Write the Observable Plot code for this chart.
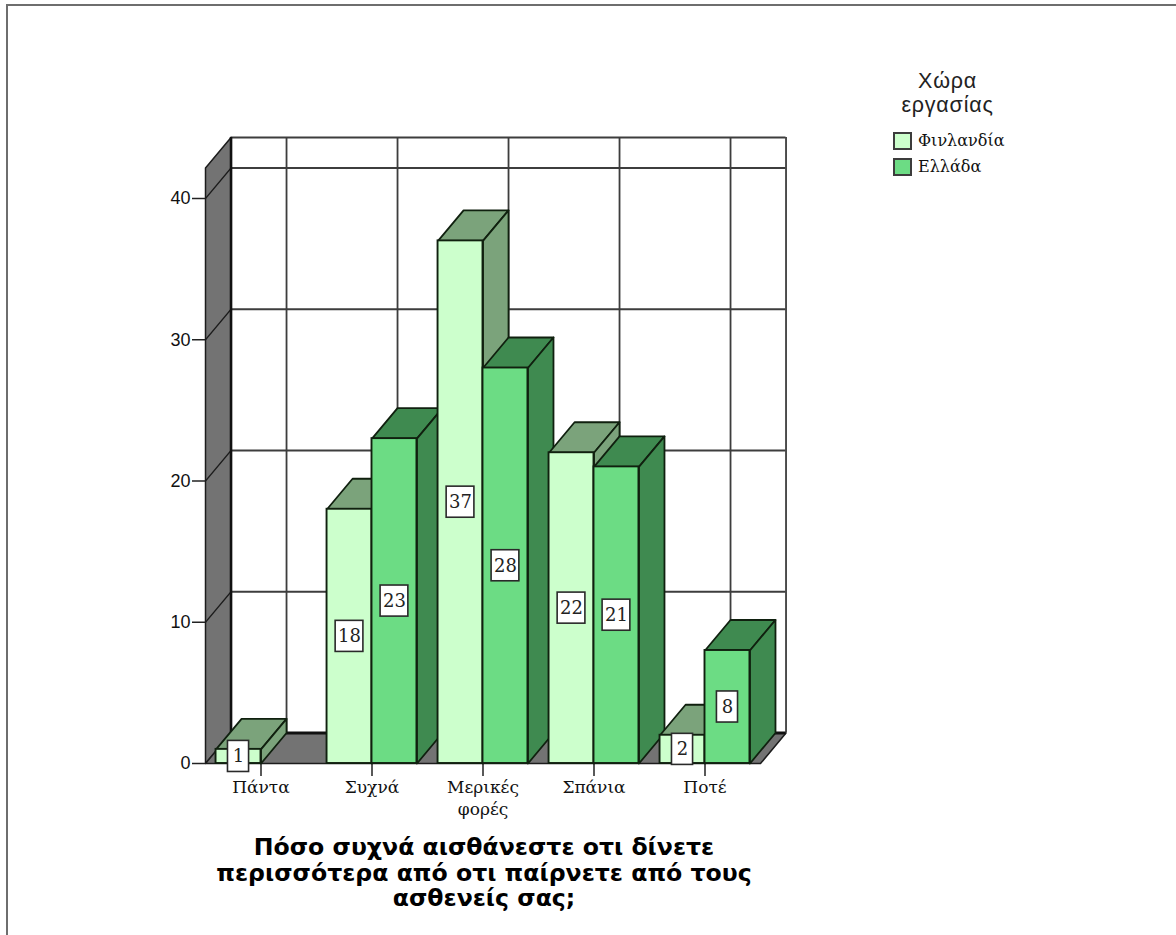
<!DOCTYPE html>
<html lang="el">
<head>
<meta charset="utf-8">
<title>Χώρα εργασίας</title>
<script src="https://cdn.jsdelivr.net/npm/d3@7"></script>
<script src="https://cdn.jsdelivr.net/npm/@observablehq/plot@0.6"></script>
<style>
  html, body { margin: 0; padding: 0; background: #fff; overflow: hidden; }
  #page { position: relative; width: 1176px; height: 935px; overflow: hidden; }
  #frame { position: absolute; left: 6px; top: 4px; right: -4px; bottom: -4px;
           border-left: 2px solid #6e6e6e; border-top: 2px solid #6e6e6e; }
  #chart { position: absolute; left: 0; top: 0; }
  #chart svg { display: block; background: transparent; }
  #legend { position: absolute; left: 880px; top: 69px; width: 135px; }
  #legend .head { font: 21.5px/24px "Liberation Sans", sans-serif; letter-spacing: 0.8px; text-align: center; color: #222; }
  #legend .row { position: absolute; left: 13px; height: 16px; font: 16px/17px "DejaVu Serif", serif; color: #111; white-space: nowrap; }
  #legend .swatch { display: inline-block; width: 15px; height: 14px; border: 2px solid #3c3c3c; margin-right: 6px; vertical-align: top; box-sizing: content-box; }
  #caption { position: absolute; left: 184px; top: 835px; width: 600px; text-align: center;
             font: bold 23.6px/25.5px "DejaVu Sans", sans-serif; color: #000; }
</style>
</head>
<body>
<div id="page">
  <div id="frame"></div>
  <div id="chart"></div>
  <div id="legend"></div>
  <div id="caption"></div>
</div>
<script>
// Survey counts by answer and country of work
const categories = ["Πάντα", "Συχνά", "Μερικές\nφορές", "Σπάνια", "Ποτέ"];
const finland = [1, 18, 37, 22, 2];
const greece = [0, 23, 28, 21, 8];
const seriesNames = ["Φινλανδία", "Ελλάδα"];
const yTicks = [0, 10, 20, 30, 40];
const legendTitle = ["Χώρα", "εργασίας"];
const captionLines = ["Πόσο συχνά αισθάνεστε οτι δίνετε", "περισσότερα από οτι παίρνετε από τους", "ασθενείς σας;"];

// Colours of each series: front face, then top and side faces
const frontColors = ["#ccffcc", "#6cdc84"];
const depthColors = ["#7ba37b", "#3f8a50"];
const wallColor = "#737373";
const ink = "#10200f";

// Oblique projection offsets, in data units of the x and y scales
const DX = 0.23;
const DY = 2.16;
const BAR = 0.405;
const WALL_TOP = 42.16;
const LEFT = -0.5;
const RIGHT = 4.5;

const bars = [finland, greece].flatMap((values, s) =>
  values.map((v, i) => ({
    i, s, v,
    x1: s === 0 ? i - BAR : i,
    x2: s === 0 ? i : i + BAR
  }))
).filter(d => d.v > 0).sort((a, b) => a.i - b.i || a.s - b.s);

// Top and side parallelograms of each bar, painted left to right
const faces = bars.flatMap(d => {
  const top = `t${d.i}-${d.s}`, side = `s${d.i}-${d.s}`;
  const fill = depthColors[d.s];
  return [
    [d.x1, d.v], [d.x1 + DX, d.v + DY], [d.x2 + DX, d.v + DY], [d.x2, d.v], [d.x1, d.v]
  ].map(([x, y]) => ({ id: top, x, y, fill })).concat([
    [d.x2, d.v], [d.x2 + DX, d.v + DY], [d.x2 + DX, DY], [d.x2, 0], [d.x2, d.v]
  ].map(([x, y]) => ({ id: side, x, y, fill })));
});

// Grey side wall and floor of the box
const shell = [
  ...[[LEFT, 0], [LEFT + DX, DY], [LEFT + DX, WALL_TOP + DY], [LEFT, WALL_TOP], [LEFT, 0]]
    .map(([x, y]) => ({ id: "wall", x, y })),
  ...[[LEFT, 0], [LEFT + DX, DY], [RIGHT + DX, DY], [RIGHT, 0], [LEFT, 0]]
    .map(([x, y]) => ({ id: "floor", x, y }))
];

const backGrid = { stroke: "#3d3d3d", strokeWidth: 1.8 };
const labelW = d => (String(d.v).length > 1 ? 0.125 : 0.095);
const labelH = 1.1;

const plot = Plot.plot({
  width: 1176,
  height: 825,
  marginLeft: 205,
  marginRight: 416,
  marginTop: 198,
  marginBottom: 62,
  style: { background: "transparent" },
  color: { type: "identity" },
  x: { type: "linear", domain: [LEFT, RIGHT] },
  y: { type: "linear", domain: [0, 40] },
  marks: [
    // back wall grid
    Plot.ruleY([...yTicks.slice(1), WALL_TOP], { y: d => d + DY, x1: LEFT + DX, x2: RIGHT + DX, ...backGrid }),
    Plot.ruleX([0, 1, 2, 3, 4, RIGHT], { x: d => d + DX, y1: DY, y2: WALL_TOP + DY, ...backGrid }),
    // side wall and floor
    Plot.line(shell, { x: "x", y: "y", z: "id", fill: wallColor, stroke: "#1c1c1c", strokeWidth: 1.5 }),
    Plot.line(yTicks.slice(1).flatMap(v => [{ v, x: LEFT, y: v }, { v, x: LEFT + DX, y: v + DY }]),
      { x: "x", y: "y", z: "v", stroke: "#1c1c1c", strokeWidth: 1.2 }),
    Plot.ruleX([LEFT + DX], { x: d => d, y1: DY, y2: WALL_TOP + DY, stroke: "#111", strokeWidth: 2.6 }),
    Plot.ruleY([DY], { y: d => d, x1: LEFT + DX, x2: RIGHT + DX, stroke: "#111", strokeWidth: 3 }),
    // axes
    Plot.axisY({ ticks: yTicks, tickSize: 13, tickPadding: 2, fontSize: 18, fontFamily: "Liberation Sans", label: null, stroke: "#222", strokeWidth: 1.5, fill: "#111" }),
    Plot.axisX({ ticks: [0, 1, 2, 3, 4], tickFormat: i => categories[i], tickSize: 13, tickPadding: 1, fontSize: 17, fontFamily: "DejaVu Serif", lineHeight: 1.28, label: null, stroke: "#222", strokeWidth: 1.5, fill: "#111", textOverflow: null }),
    // bars: depth faces first, then the front faces
    Plot.line(faces, { x: "x", y: "y", z: "id", fill: "fill", stroke: ink, strokeWidth: 1.8 }),
    Plot.rect(bars, { x1: "x1", x2: "x2", y1: 0, y2: "v", fill: d => frontColors[d.s], stroke: ink, strokeWidth: 1.9, inset: 0 }),
    // value labels in white boxes
    Plot.rect(bars, {
      x1: d => (d.x1 + d.x2) / 2 - labelW(d), x2: d => (d.x1 + d.x2) / 2 + labelW(d),
      y1: d => d.v / 2 - labelH, y2: d => d.v / 2 + labelH,
      fill: "#fff", stroke: "#2a2a2a", strokeWidth: 1.6, inset: 0
    }),
    Plot.text(bars, {
      x: d => (d.x1 + d.x2) / 2, y: d => d.v / 2, text: d => String(d.v),
      fontSize: 18, fontFamily: "DejaVu Serif", fill: "#222"
    })
  ]
});
document.getElementById("chart").appendChild(plot);

// Legend block beside the plot
const legend = d3.select("#legend");
legend.selectAll("div.head").data(legendTitle).join("div").attr("class", "head").text(d => d);
const rows = legend.selectAll("div.row").data(seriesNames).join("div")
  .attr("class", "row").style("top", (d, i) => `${63 + i * 26}px`);
rows.append("span").attr("class", "swatch").style("background", (d, i) => frontColors[i]);
rows.append("span").text(d => d);

// Question wording under the axis
d3.select("#caption").selectAll("div").data(captionLines).join("div").text(d => d);
</script>
</body>
</html>
